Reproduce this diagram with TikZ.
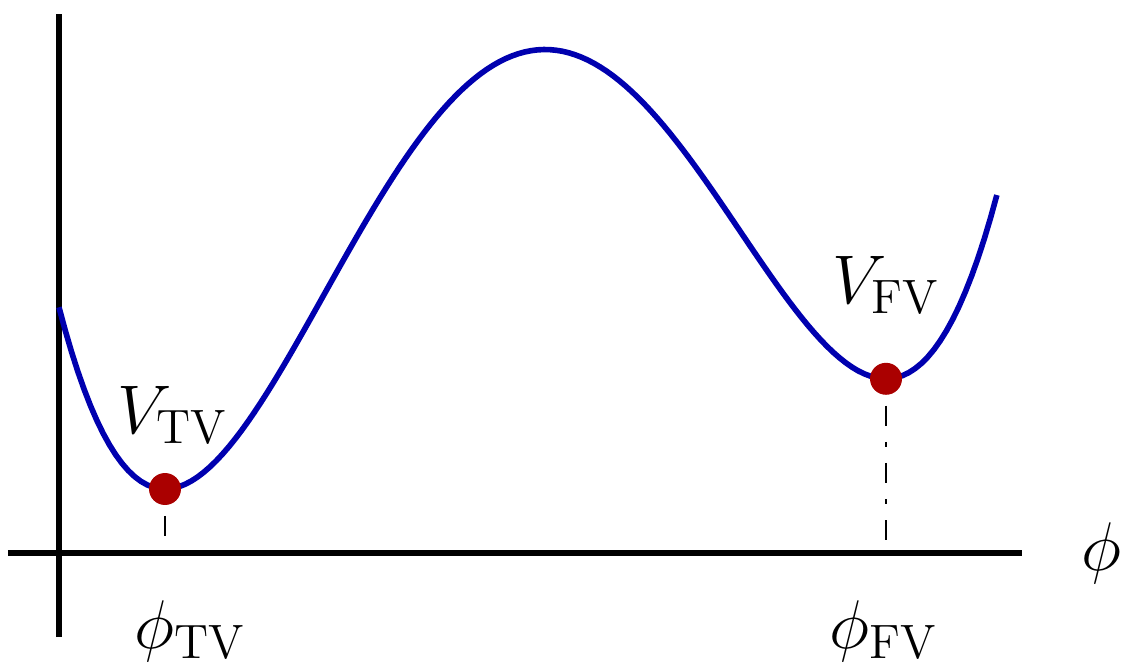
\RequirePackage{fix-cm}
\documentclass[tikz,border=0pt]{standalone}
\usepackage{tikz}
\usetikzlibrary{positioning,calc}
\definecolor{potblue}{RGB}{0,0,175}
\definecolor{vacred}{RGB}{170,0,0}

\begin{document}
\begin{tikzpicture}[
    declare function={vpot(\u)=0.64+0.0905*\u*\u*(0.25*\u*\u-3.67*\u+13.699);},
    axis/.style={line width=1.7pt},
    potential/.style={line width=1.6pt, potblue},
    vacdot/.style={circle, fill=vacred, inner sep=0pt, minimum size=9.1pt},
    dropline/.style={line width=0.5pt, dash pattern=on 5.7pt off 4.6pt on 1.4pt off 4.6pt, dash phase=13.4pt},
    txt/.style={font=\fontsize{19.6}{23}\selectfont}
  ]
    \useasboundingbox (-0.59, -1.11) rectangle (10.62, 5.53);

    % Axes
    \coordinate (O) at (0, 0);
    \coordinate (ybot) at (0, -0.84);
    \coordinate (ytop) at (0, 5.39);
    \coordinate (xbeg) at (-0.51, 0);
    \coordinate (xend) at (9.63, 0);
    \draw[axis] (ybot) -- (ytop);
    \draw[axis] (xbeg) -- (xend);
    \node[txt, right=0.47 of xend] (phiaxis) {$\phi$};

    % Potential with true and false vacuum
    \draw[potential] plot[domain=0:9.38, samples=150] (\x, {vpot(\x-1.06)});

    % Vacua
    \node[vacdot] (tv) at (1.06, {vpot(0)}) {};
    \node[vacdot] (fv) at (8.27, {vpot(7.21)}) {};

    % Drop lines to the field axis
    \coordinate (tvfoot) at (tv |- O);
    \coordinate (fvfoot) at (fv |- O);
    \draw[dropline] (tv) -- (tvfoot);
    \draw[dropline] (fv) -- (fvfoot);

    % Labels
    \node[txt, anchor=base] (vtv) at (1.14, 1.20) {$V_{\mathrm{TV}}$};
    \node[txt, anchor=base] (vfv) at (8.27, 2.50) {$V_{\mathrm{FV}}$};
    \node[txt, anchor=base, inner sep=0pt] (phitv) at (1.31, -0.95) {$\phi_{\mathrm{TV}}$};
    \node[txt, anchor=base, inner sep=0pt] (phifv) at (8.25, -0.95) {$\phi_{\mathrm{FV}}$};
\end{tikzpicture}
\end{document}
